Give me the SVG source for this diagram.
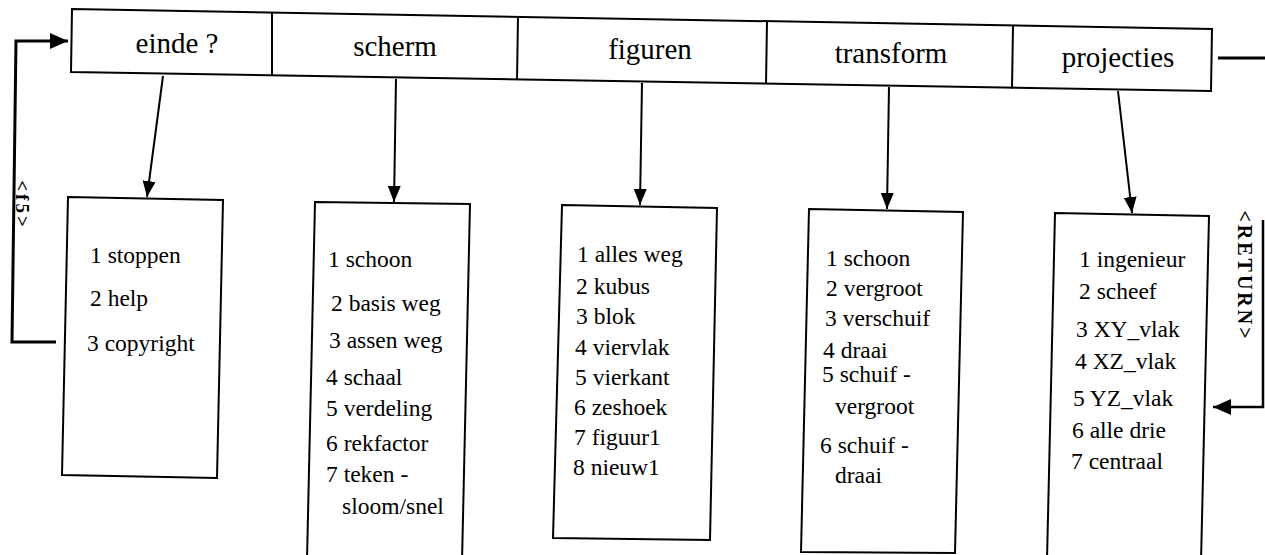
<svg xmlns="http://www.w3.org/2000/svg" width="1265" height="555" viewBox="0 0 1265 555">
<defs>
<style>
.box{fill:#fff;stroke:#000;stroke-width:2}
.div{stroke:#000;stroke-width:2;fill:none}
.head{font-family:"Liberation Serif","Times New Roman",serif;font-size:29px;fill:#000;text-anchor:middle}
.item{font-family:"Liberation Serif","Times New Roman",serif;font-size:23.5px;fill:#000}
.con{stroke:#000;stroke-width:2;fill:none}
.key{font-family:"Liberation Serif","Times New Roman",serif;fill:#000;text-anchor:middle}
</style>
<marker id="arr" viewBox="0 0 16 13" refX="16" refY="6.5" markerWidth="16" markerHeight="13" markerUnits="userSpaceOnUse" orient="auto">
<path d="M0,0 L16,6.5 L0,13 z" fill="#000"/>
</marker>
<marker id="arrBig" viewBox="0 0 18 16" refX="18" refY="8" markerWidth="18" markerHeight="16" markerUnits="userSpaceOnUse" orient="auto">
<path d="M0,0 L18,8 L0,16 z" fill="#000"/>
</marker>
</defs>
<rect width="1265" height="555" fill="#fff"/>

<g id="menubar">
<polygon class="box" points="72,9 1212,29 1211,91 71,72"/>
<line class="div" x1="272" y1="12.5" x2="272" y2="75.5"/>
<line class="div" x1="518" y1="17" x2="517" y2="80"/>
<line class="div" x1="767" y1="21" x2="766" y2="84"/>
<line class="div" x1="1013" y1="25.5" x2="1012" y2="88.5"/>
</g>
<g id="m-einde"><text class="head" x="177" y="53">einde ?</text></g>
<g id="m-scherm"><text class="head" x="395" y="56">scherm</text></g>
<g id="m-figuren"><text class="head" x="650" y="59">figuren</text></g>
<g id="m-transform"><text class="head" x="891" y="63">transform</text></g>
<g id="m-projecties"><text class="head" x="1118" y="67">projecties</text></g>

<g id="box-einde">
<polygon class="box" points="68,197 223,200 217,478 62,475"/>
<text class="item" x="90" y="263">1 stoppen</text>
<text class="item" x="90" y="306">2 help</text>
<text class="item" x="87" y="351">3 copyright</text>
</g>

<g id="box-scherm">
<polygon class="box" points="315,202 470,204 462,562 307,560"/>
<text class="item" x="328" y="267">1 schoon</text>
<text class="item" x="331" y="311">2 basis weg</text>
<text class="item" x="329" y="348">3 assen weg</text>
<text class="item" x="326" y="385">4 schaal</text>
<text class="item" x="326" y="416">5 verdeling</text>
<text class="item" x="326" y="451">6 rekfactor</text>
<text class="item" x="326" y="482">7 teken -</text>
<text class="item" x="342" y="514">sloom/snel</text>
</g>

<g id="box-figuren">
<polygon class="box" points="562,205 717,208 710,540 553,538"/>
<text class="item" x="577" y="262">1 alles weg</text>
<text class="item" x="576" y="294">2 kubus</text>
<text class="item" x="576" y="324">3 blok</text>
<text class="item" x="575" y="355">4 viervlak</text>
<text class="item" x="575" y="385">5 vierkant</text>
<text class="item" x="574" y="415">6 zeshoek</text>
<text class="item" x="574" y="445">7 figuur1</text>
<text class="item" x="573" y="475">8 nieuw1</text>
</g>

<g id="box-transform">
<polygon class="box" points="809,209 963,212 955,553 801,552"/>
<text class="item" x="826" y="266">1 schoon</text>
<text class="item" x="826" y="296">2 vergroot</text>
<text class="item" x="825" y="326">3 verschuif</text>
<text class="item" x="823" y="358">4 draai</text>
<text class="item" x="822" y="382">5 schuif -</text>
<text class="item" x="835" y="414">vergroot</text>
<text class="item" x="820" y="453">6 schuif -</text>
<text class="item" x="835" y="483">draai</text>
</g>

<g id="box-projecties">
<polygon class="box" points="1055,213 1209,216 1201,562 1047,560"/>
<text class="item" x="1079" y="267">1 ingenieur</text>
<text class="item" x="1079" y="299">2 scheef</text>
<text class="item" x="1076" y="337">3 XY_vlak</text>
<text class="item" x="1075" y="369">4 XZ_vlak</text>
<text class="item" x="1073" y="406">5 YZ_vlak</text>
<text class="item" x="1072" y="438">6 alle drie</text>
<text class="item" x="1071" y="469">7 centraal</text>
</g>

<g id="connectors">
<line class="con" x1="163" y1="76" x2="147" y2="197" marker-end="url(#arr)"/>
<line class="con" x1="396" y1="79" x2="394" y2="202" marker-end="url(#arr)"/>
<line class="con" x1="642" y1="83" x2="640" y2="205" marker-end="url(#arr)"/>
<line class="con" x1="889" y1="87" x2="887" y2="209" marker-end="url(#arr)"/>
<line class="con" x1="1118" y1="91" x2="1132" y2="213" marker-end="url(#arr)"/>
<path class="con" style="stroke-width:3" d="M56,342 H12 L16,41 H68" marker-end="url(#arrBig)"/>
<path class="con" style="stroke-width:3" d="M1218,58 H1265"/>
<path class="con" style="stroke-width:2.5" d="M1263,220 V407 H1213" marker-end="url(#arrBig)"/>
<text class="key" transform="translate(22,205) rotate(90)" x="0" y="6" font-size="19" font-weight="bold" letter-spacing="3">&lt;f5&gt;</text>
<text class="key" transform="translate(1245,276) rotate(90)" x="0" y="7" font-size="20" font-weight="bold" letter-spacing="3">&lt;RETURN&gt;</text>
</g>
</svg>
